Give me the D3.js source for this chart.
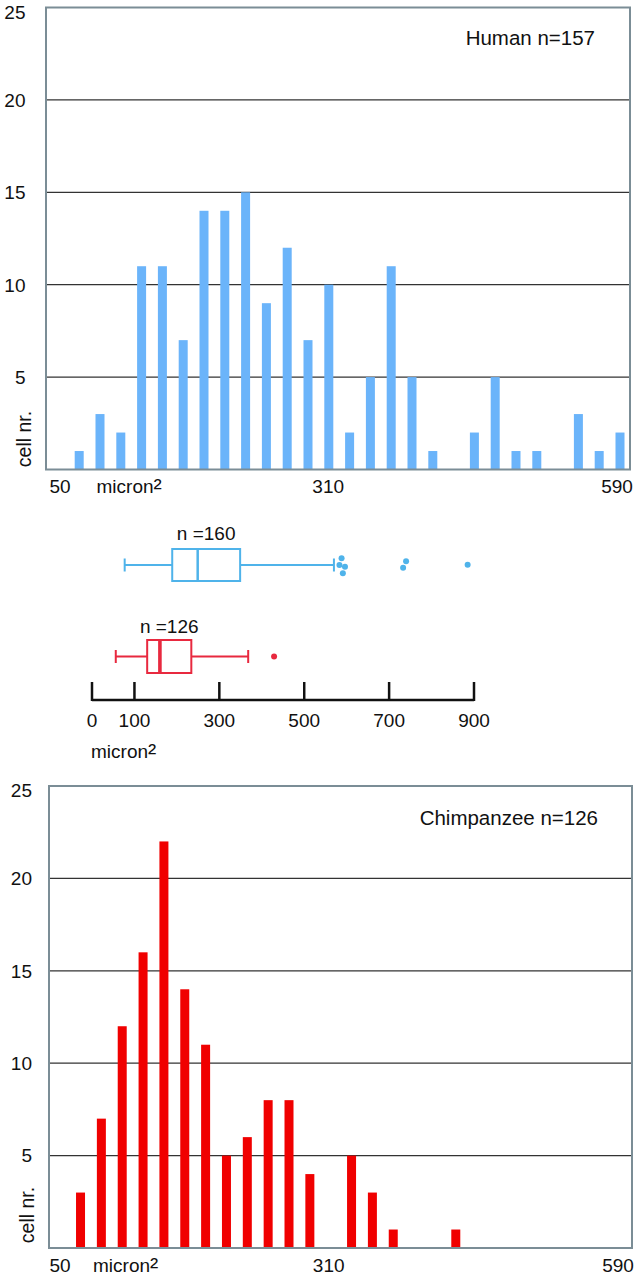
<!DOCTYPE html>
<html>
<head>
<meta charset="utf-8">
<script src="https://cdn.jsdelivr.net/npm/d3@7"></script>
<style>
  html, body { margin: 0; padding: 0; background: #fff; }
  svg { display: block; }
  text { font-family: "Liberation Sans", Arial, sans-serif; fill: #111; }
</style>
</head>
<body>
<svg id="chart" width="638" height="1280"></svg>
<script>
// ---------- data ----------
const binStarts = [50,70,90,110,130,150,170,190,210,230,250,270,290,310,330,350,370,390,410,430,450,470,490,510,530,550,570];
const humanCounts = [1,3,2,11,11,7,14,14,15,9,12,7,10,2,5,11,5,1,0,2,5,1,1,0,3,1,2];
const chimpCounts = [3,7,12,16,22,14,11,5,6,8,8,4,0,5,3,1,0,0,1,0,0,0,0,0,0,0,0];
const histTicks = [0,5,10,15,20,25];
const histXLabels = [50,310,590];
const humanTitle = "Human n=157";
const chimpTitle = "Chimpanzee n=126";

// box plot summaries (micron^2)
const humanBox = {label: "n =160", lo: 77, q1: 189, med: 249, q3: 349, hi: 570};
const chimpBox = {label: "n =126", lo: 56, q1: 130, med: 160, q3: 234, hi: 368};
const humanOutliers = [588, 583, 596, 591, 740, 733, 885];
const chimpOutliers = [429];
const boxTicks = [0,100,300,500,700,900];

// ---------- drawing ----------
const svg = d3.select("#chart");
const BLUE = "#6bb4fa", RED = "#f00000";
const BOX_BLUE = "#4fb3ea", BOX_RED = "#e8293f";
const FRAME = "#7b8d96", GRID = "#333";

function micronLabel(sel, x, y, size) {
  const t = sel.append("text").attr("x", x).attr("y", y).attr("font-size", size).text("micron");
  t.append("tspan").attr("font-size", size * 1.3).attr("dy", 3).text("²");
  return t;
}

function histogram(cfg) {
  const g = svg.append("g");
  const y = d3.scaleLinear().domain([0, 25]).range([cfg.bottom, cfg.top]);
  const xb = d3.scaleLinear().domain([50, 590]).range(cfg.barRange);
  const xl = d3.scaleLinear().domain([50, 590]).range(cfg.labelRange);

  // gridlines (5..20)
  g.selectAll("line.grid").data(histTicks.filter(t => t > 0 && t < 25)).join("line")
    .attr("x1", cfg.left).attr("x2", cfg.right)
    .attr("y1", d => y(d)).attr("y2", d => y(d))
    .attr("stroke", GRID).attr("stroke-width", 1.2);

  // bars
  g.selectAll("rect.bar").data(cfg.counts.map((c, i) => ({s: binStarts[i], c})).filter(d => d.c > 0)).join("rect")
    .attr("x", d => xb(d.s + 10) - 4.5)
    .attr("width", 9)
    .attr("y", d => y(d.c))
    .attr("height", d => y(0) - y(d.c))
    .attr("fill", cfg.color);

  // frame
  g.append("rect")
    .attr("x", cfg.left).attr("y", cfg.top)
    .attr("width", cfg.right - cfg.left).attr("height", cfg.bottom - cfg.top)
    .attr("fill", "none").attr("stroke", FRAME).attr("stroke-width", 2);

  // y tick labels
  g.selectAll("text.yt").data(histTicks.filter(t => t > 0)).join("text")
    .attr("x", cfg.yLabelX).attr("y", d => Math.max(y(d), cfg.top + 4.5)).attr("dy", "0.36em")
    .attr("text-anchor", "end").attr("font-size", 19).text(d => d);

  // y axis title
  g.append("text")
    .attr("transform", `translate(${cfg.yTitleX},${cfg.yTitleY}) rotate(-90)`)
    .attr("text-anchor", "middle").attr("dy", "0.36em").attr("font-size", 19.5)
    .text("cell nr.");

  // x labels
  g.selectAll("text.xt").data(histXLabels).join("text")
    .attr("x", d => xl(d)).attr("y", cfg.xLabelY)
    .attr("text-anchor", "middle").attr("font-size", 19).text(d => d);
  micronLabel(g, cfg.micronX, cfg.xLabelY, 19);

  // title
  g.append("text").attr("x", cfg.titleX).attr("y", cfg.titleY)
    .attr("text-anchor", "end").attr("font-size", 20.5).text(cfg.title);
}

histogram({
  counts: humanCounts, color: BLUE, title: humanTitle,
  left: 46, right: 630, top: 7.5, bottom: 469.5,
  barRange: [68.8, 630.4], labelRange: [60, 617],
  yLabelX: 25.5, yTitleX: 24, yTitleY: 439,
  xLabelY: 493, micronX: 96.5, titleX: 595, titleY: 45
});

histogram({
  counts: chimpCounts, color: RED, title: chimpTitle,
  left: 49, right: 632, top: 786, bottom: 1248,
  barRange: [70.1, 633], labelRange: [60, 618],
  yLabelX: 32, yTitleX: 27, yTitleY: 1215,
  xLabelY: 1272, micronX: 93, titleX: 598, titleY: 825
});

// ---------- box plots ----------
const bx = d3.scaleLinear().domain([0, 900]).range([92, 474]);
const axisY = 700;
const bg = svg.append("g");

// axis
bg.append("line").attr("x1", bx(0)).attr("x2", bx(900)).attr("y1", axisY).attr("y2", axisY)
  .attr("stroke", "#111").attr("stroke-width", 2.5);
bg.selectAll("line.bt").data(boxTicks).join("line")
  .attr("x1", d => bx(d)).attr("x2", d => bx(d))
  .attr("y1", axisY + 1).attr("y2", axisY - 18)
  .attr("stroke", "#111").attr("stroke-width", 2.5);
bg.selectAll("text.bt").data(boxTicks).join("text")
  .attr("x", d => bx(d)).attr("y", 727)
  .attr("text-anchor", "middle").attr("font-size", 19).text(d => d);
micronLabel(bg, 91, 758, 19);

function boxplot(b, outliers, jitter, cy, h, color, medWidth, labelY) {
  const g = bg.append("g").attr("stroke", color).attr("fill", "none");
  g.append("line").attr("x1", bx(b.lo)).attr("x2", bx(b.q1)).attr("y1", cy).attr("y2", cy).attr("stroke-width", 2);
  g.append("line").attr("x1", bx(b.q3)).attr("x2", bx(b.hi)).attr("y1", cy).attr("y2", cy).attr("stroke-width", 2);
  [b.lo, b.hi].forEach(v => g.append("line").attr("x1", bx(v)).attr("x2", bx(v))
    .attr("y1", cy - 6.5).attr("y2", cy + 6.5).attr("stroke-width", 2));
  g.append("rect").attr("x", bx(b.q1)).attr("y", cy - h / 2)
    .attr("width", bx(b.q3) - bx(b.q1)).attr("height", h).attr("stroke-width", 2);
  g.append("line").attr("x1", bx(b.med)).attr("x2", bx(b.med))
    .attr("y1", cy - h / 2).attr("y2", cy + h / 2).attr("stroke-width", medWidth);
  bg.selectAll(null).data(outliers).join("circle")
    .attr("cx", d => bx(d)).attr("cy", (d, i) => cy + jitter[i]).attr("r", 3)
    .attr("fill", color);
  bg.append("text").attr("x", bx((b.q1 + b.q3) / 2)).attr("y", labelY)
    .attr("text-anchor", "middle").attr("font-size", 19).text(b.label);
}

boxplot(humanBox, humanOutliers, [-6.7, 0, 1.7, 8.3, -3.7, 2.7, -0.3], 565, 32, BOX_BLUE, 2.5, 540);
boxplot(chimpBox, chimpOutliers, [0], 656.5, 33, BOX_RED, 3.6, 632.5);
</script>
</body>
</html>
